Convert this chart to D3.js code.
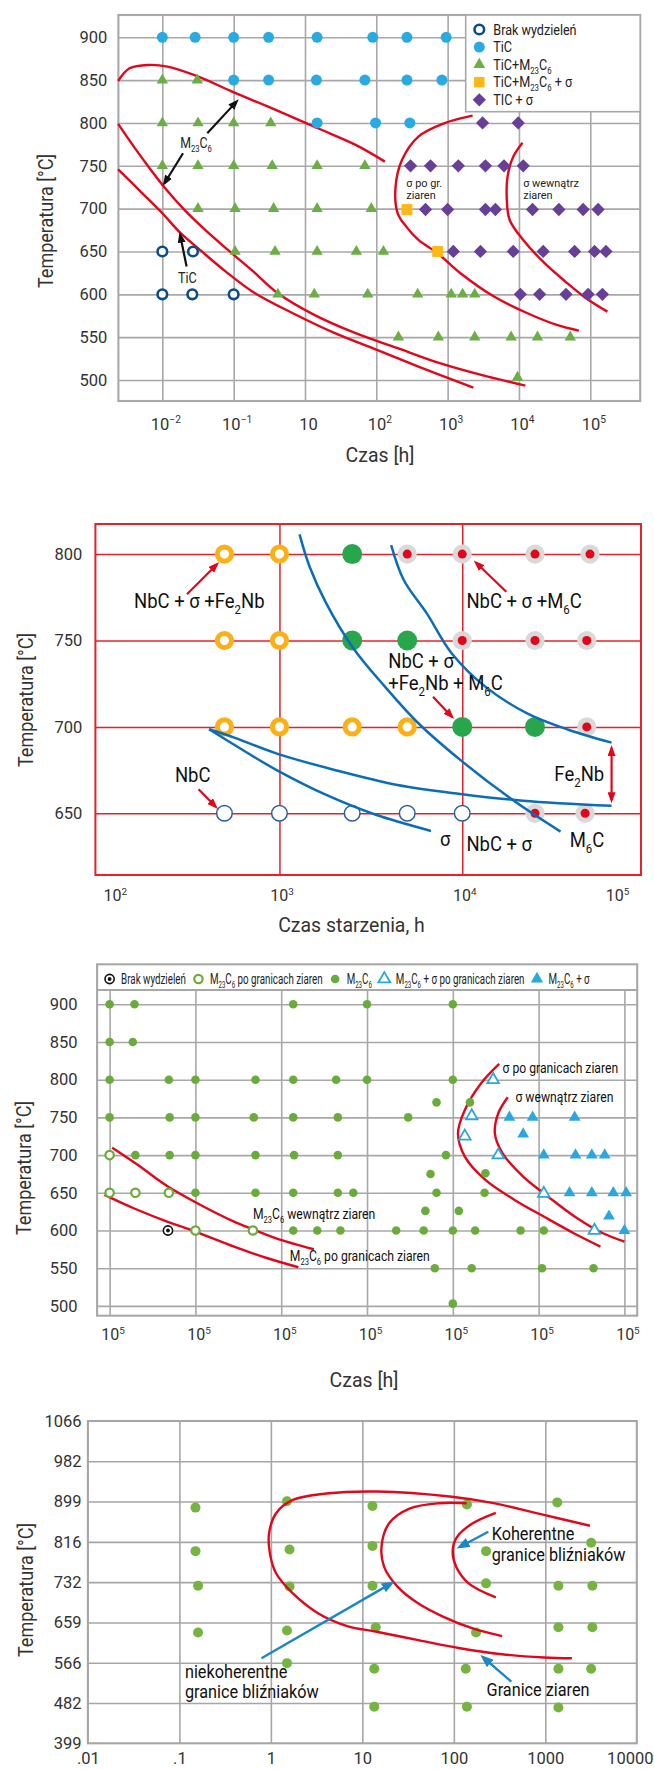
<!DOCTYPE html>
<html>
<head>
<meta charset="utf-8">
<script src="https://cdn.jsdelivr.net/npm/d3@7"></script>
<style>
  body { margin: 0; background: #fff; }
  svg { display: block; }
  text { font-family: Roboto, "Noto Sans", sans-serif; }
</style>
</head>
<body>
<svg id="chart" width="654" height="1769"></svg>
<script>
// ---------- panel 1 : x is a decade index (the original skips 10^0) ----------
var p1XTicks = [0, 1, 2, 3, 4, 5, 6];
var p1XLabels = ["10^{−2}", "10^{−1}", "10", "10^{2}", "10^{3}", "10^{4}", "10^{5}"];
var p1YTicks = [500, 550, 600, 650, 700, 750, 800, 850, 900];
var p1Legend = ["Brak wydzieleń", "TiC", "TiC+M_{23}C_{6}", "TiC+M_{23}C_{6} + σ", "TIC + σ"];

var p1None = [[0, 650], [0.43, 650], [0, 600], [0.42, 600], [1, 600]];
var p1TiC = [[0, 900], [0.46, 900], [1, 900], [1.49, 900], [2.17, 900], [2.95, 900], [3.43, 900], [3.98, 900],
  [1, 850], [1.49, 850], [2.16, 850], [2.84, 850], [3.43, 850], [3.92, 850],
  [2.17, 800], [2.99, 800], [3.47, 800]];
var p1TiCM23 = [[0, 850], [0.49, 850], [0, 800], [0.5, 800], [1, 800], [1.52, 800],
  [0, 750], [0.5, 750], [1, 750], [1.54, 750], [2.17, 750], [2.84, 750],
  [0.5, 700], [1.02, 700], [1.56, 700], [2.17, 700], [2.93, 700],
  [1.02, 650], [1.58, 650], [2.17, 650], [2.72, 650], [3.1, 650],
  [1.62, 600], [2.13, 600], [2.88, 600], [3.58, 600], [4.05, 600], [4.21, 600], [4.38, 600],
  [3.31, 550], [3.87, 550], [4.38, 550], [4.89, 550], [5.26, 550], [5.72, 550], [4.98, 503]];
var p1TiCM23Sigma = [[3.43, 699], [3.86, 650]];
var p1TiCSigma = [[4.49, 800], [4.99, 800],
  [3.48, 750], [3.76, 750], [4.15, 750], [4.53, 750], [4.79, 750], [5.06, 750],
  [3.69, 699], [4.0, 699], [4.53, 699], [4.67, 699], [5.19, 699], [5.56, 699], [5.9, 699], [6.11, 699],
  [4.08, 650], [4.46, 650], [4.92, 650], [5.34, 650], [5.78, 650], [6.06, 650], [6.22, 650],
  [5.02, 600], [5.29, 600], [5.66, 600], [5.97, 600], [6.17, 600]];

var p1CurveA = [[-0.62, 849], [-0.46, 863.8], [-0.19, 867.7], [0.07, 865.8], [0.48, 854.9], [1.01, 835.4],
  [1.54, 817.1], [2.18, 793.8], [2.71, 774.4], [3.12, 754.9]];
var p1CurveB = [[-0.62, 798.9], [-0.4, 772.4], [-0.16, 745.2], [0.04, 723.8], [0.31, 698.5], [0.6, 675.2],
  [0.92, 651.8], [1.25, 628.5], [1.62, 601.2], [2.13, 576], [2.71, 554.6], [3.3, 537.1], [3.89, 519.6],
  [4.47, 505.9], [5.09, 493.5]];
var p1CurveC = [[-0.62, 745.9], [-0.28, 717.9], [0, 694.6], [0.25, 672], [0.54, 651], [0.89, 626.5],
  [1.3, 601.2], [1.83, 577.9], [2.42, 554.6], [3.01, 535.1], [3.59, 515.7], [4.36, 491.2]];
var p1CurveD = [[4.35, 808.6], [3.95, 799.6], [3.59, 784.1], [3.36, 756.8], [3.27, 725.7], [3.3, 694.6],
  [3.42, 679], [3.59, 663.5], [3.86, 647.9], [4.18, 624.6], [4.65, 597.4], [5.12, 577.9], [5.53, 564.3], [5.84, 557.7]];
var p1CurveE = [[5.05, 777], [4.92, 760.7], [4.84, 737.4], [4.83, 710.2], [4.87, 686.8], [5.06, 663.5],
  [5.36, 636.3], [5.65, 614.9], [5.94, 595.4], [6.24, 579.8]];
var p1Arrows = [[[0.63, 788], [1.04, 824.9]], [[0.29, 764.6], [0.03, 729.6]], [[0.34, 632.4], [0.25, 669.3]]];

// ---------- panel 2 : NbC / sigma / Fe2Nb / M6C ----------
var p2XTicks = [1e2, 1e3, 1e4, 1e5];
var p2XLabels = ["10^{2}", "10^{3}", "10^{4}", "10^{5}"];
var p2YTicks = [650, 700, 750, 800];
var p2Rings = [[500, 800], [1000, 800], [500, 750], [1000, 750], [500, 700], [1000, 700], [2500, 700], [5000, 700]];
var p2Green = [[2500, 800], [2500, 750], [5000, 750], [10000, 700], [25000, 700]];
var p2RedGray = [[5000, 800], [10000, 800], [25000, 800], [50000, 800], [10000, 750], [25000, 750],
  [48000, 750], [48000, 700], [25000, 650], [47000, 650]];
var p2Open = [[500, 650], [1000, 650], [2500, 650], [5000, 650], [10000, 650]];
var p2Curve1 = [[1288, 811.4], [1462, 792.7], [1803, 771.5], [2541, 745.4], [3776, 723.3], [5754, 702.1],
  [9750, 680.9], [18320, 658.7], [34510, 639.4]];
var p2Curve2 = [[4083, 805.2], [4786, 785], [6397, 765.7], [8770, 742.5], [13370, 723.3], [22650, 707.8],
  [38370, 698.2], [65610, 690.9]];
var p2Curve3 = [[412, 698.6], [566, 693.8], [959, 684.7], [2004, 675.1], [4416, 666.4], [9750, 661.2],
  [21480, 657.3], [65610, 654.3]];
var p2Curve4 = [[412, 698.6], [630, 686.6], [1000, 674.1], [1803, 660.6], [3396, 649], [6745, 639.8]];
var p2Arrows = [[[312, 776.7], [454, 794]], [[17420, 778.2], [11910, 795]], [[6918, 717.5], [8770, 705.9]],
  [[361, 663.9], [447, 653.9]]];
var p2FeArrow = [[65610, 687.6], [65610, 657.7]];
var p2Notes = [
  { t: "NbC + σ +Fe_{2}Nb", x: 160, y: 768.6 },
  { t: "NbC + σ +M_{6}C", x: 10540, y: 768.6 },
  { t: "NbC + σ", x: 3936, y: 733.9 },
  { t: "+Fe_{2}Nb + M_{6}C", x: 3936, y: 721.3 },
  { t: "NbC", x: 268, y: 667.9 },
  { t: "Fe_{2}Nb", x: 31920, y: 668.9 },
  { t: "σ", x: 7568, y: 631.1 },
  { t: "NbC + σ", x: 10540, y: 628.4 },
  { t: "M_{6}C", x: 38730, y: 630.3 }
];

// ---------- panel 3 : M23C6 / sigma (all x labels read 10^5 in the original) ----------
var p3XTicks = [0, 1, 2, 3, 4, 5, 6];
var p3XLabels = ["10^{5}", "10^{5}", "10^{5}", "10^{5}", "10^{5}", "10^{5}", "10^{5}"];
var p3YTicks = [500, 550, 600, 650, 700, 750, 800, 850, 900];
var p3Legend = ["Brak wydzieleń", "M_{23}C_{6} po granicach ziaren", "M_{23}C_{6}",
  "M_{23}C_{6} + σ po granicach ziaren", "M_{23}C_{6} + σ"];
var p3None = [[0.68, 600]];
var p3M23Gb = [[0, 700], [0, 650], [0.3, 650], [0.69, 650], [1, 600], [1.67, 600]];
var p3M23 = [[0, 900], [0.29, 900], [2.14, 900], [3.0, 900], [4.0, 900], [0, 850], [0.27, 850],
  [0, 800], [0.69, 800], [1, 800], [1.7, 800], [2.14, 800], [2.64, 800], [3.0, 800], [4.0, 800],
  [3.81, 770], [4.2, 770],
  [0, 750], [0.7, 750], [1, 750], [1.68, 750], [2.14, 750], [2.66, 750], [3.48, 750],
  [0.3, 700], [0.7, 700], [1, 700], [1.7, 700], [2.15, 700], [2.66, 700], [3.92, 700],
  [3.74, 675], [4.38, 676],
  [1, 650], [1.7, 650], [2.14, 650], [2.66, 650], [2.84, 650], [3.81, 650], [4.37, 650],
  [3.68, 626], [4.07, 626],
  [2.14, 600], [2.42, 600], [2.69, 600], [3.34, 600], [3.66, 600], [4.0, 600], [4.26, 600], [4.79, 600], [5.06, 600],
  [3.79, 550], [4.22, 550], [5.04, 550], [5.64, 550], [4.0, 503]];
var p3SigmaGb = [[4.47, 800], [4.22, 752], [4.14, 725], [4.53, 700], [5.06, 649], [5.65, 600]];
var p3Sigma = [[4.66, 750], [4.93, 750], [5.42, 750], [4.82, 728], [5.06, 700], [5.43, 700], [5.62, 700], [5.77, 700],
  [5.36, 650], [5.62, 650], [5.87, 650], [6.02, 650], [5.82, 619], [6.0, 600]];
var p3Curve1 = [[0.03, 709.9], [0.33, 687], [0.67, 659.1], [1.06, 633.9], [1.45, 611.8], [1.67, 601.7],
  [1.94, 589.7], [2.38, 575.1]];
var p3Curve2 = [[-0.06, 647.2], [0.28, 629.5], [0.67, 611.8], [1.0, 598.6], [1.45, 578.7], [1.84, 563.2], [2.2, 551.3]];
var p3Curve3 = [[4.54, 820.9], [4.33, 795.2], [4.14, 759.9], [4.06, 728.9], [4.14, 698], [4.38, 667.1],
  [4.72, 640.6], [5.06, 618.5], [5.41, 596.4], [5.72, 578.7]];
var p3Curve4 = [[4.64, 776.7], [4.53, 755.5], [4.49, 728.9], [4.58, 702.4], [4.82, 671.5], [5.11, 645],
  [5.45, 616.2], [5.75, 596.4], [6.0, 585.3]];
var p3Notes = [
  { t: "σ po granicach ziaren", x: 4.58, y: 809.4 },
  { t: "σ wewnątrz ziaren", x: 4.73, y: 770 },
  { t: "M_{23}C_{6} wewnątrz ziaren", x: 1.67, y: 615.8 },
  { t: "M_{23}C_{6} po granicach ziaren", x: 2.1, y: 559.7 }
];

// ---------- panel 4 : twin boundaries (y rows are evenly spaced labels) ----------
var p4XTicks = [0.01, 0.1, 1, 10, 100, 1000, 10000];
var p4XLabels = [".01", ".1", "1", "10", "100", "1000", "10000"];
var p4YLabels = ["399", "482", "566", "659", "732", "816", "899", "982", "1066"];
var p4Pts = [[0.15, 5.85], [0.15, 4.77], [0.16, 3.91], [0.16, 2.75],
  [1.5, 6.01], [1.6, 4.81], [1.6, 3.89], [1.5, 2.8], [1.5, 1.99],
  [12.9, 5.89], [12.9, 4.9], [12.9, 3.91], [14, 2.88], [13.5, 1.85], [13.5, 0.91],
  [139, 5.93], [225, 4.77], [225, 3.97], [175, 2.75], [135, 1.85], [139, 0.91],
  [1350, 5.98], [3170, 4.98], [1390, 3.91], [3270, 3.91], [1390, 2.88], [3270, 2.88],
  [1390, 1.85], [3170, 1.85], [1390, 0.89]];
var p4Curve1 = [[3076, 5.4], [966, 5.67], [273, 5.96], [95.3, 6.12], [14.3, 6.25], [4.05, 6.2], [1.74, 6.04],
  [1.14, 5.71], [0.955, 5.21], [0.975, 4.72], [1.14, 4.22], [1.74, 3.72], [3.27, 3.23], [6.84, 2.91],
  [14.3, 2.77], [41, 2.56], [117, 2.36], [337, 2.21], [966, 2.13], [1954, 2.11]];
var p4Curve2 = [[138, 5.96], [69.3, 5.96], [33.2, 5.83], [19.6, 5.46], [16.2, 4.88], [17.3, 4.38],
  [24.2, 3.89], [41, 3.47], [77.1, 3.14], [161, 2.85], [337, 2.66]];
var p4Curve3 = [[288, 5.72], [161, 5.46], [109, 5.13], [97.3, 4.8], [106, 4.38], [145, 3.97], [288, 3.62]];
var p4Arrows = [[[0.79, 2.11], [20.7, 3.97]], [[238, 5.25], [117, 4.88]], [[425, 1.53], [210, 2.13]]];
var p4Notes = [
  { t: "Koherentne", x: 259, y: 5.05 },
  { t: "granice bliźniaków", x: 259, y: 4.53 },
  { t: "niekoherentne", x: 0.115, y: 1.61 },
  { t: "granice bliźniaków", x: 0.115, y: 1.13 },
  { t: "Granice ziaren", x: 228, y: 1.17 }
];

// ---------- helpers ----------
var svg = d3.select("#chart");
var defs = svg.append("defs");
var RED = "#e3061b";

function arrowHead(id, color, len, wid) {
  defs.append("marker").attr("id", id)
    .attr("viewBox", "0 0 10 10").attr("preserveAspectRatio", "none")
    .attr("refX", 7).attr("refY", 5)
    .attr("markerUnits", "userSpaceOnUse")
    .attr("markerWidth", len).attr("markerHeight", wid)
    .attr("orient", "auto-start-reverse")
    .append("path").attr("d", "M0,0L10,5L0,10Z").attr("fill", color);
}
arrowHead("hBlack", "#111", 11, 8);
arrowHead("hRed", RED, 11, 8);
arrowHead("hBlue", "#1b86c8", 13, 10);

// "M_{23}C_{6}" / "10^{2}" -> tspans
function rich(sel, str, fs) {
  var re = /([_^])\{([^}]*)\}|([^_^]+)/g, m, shift = 0;
  while ((m = re.exec(str))) {
    var mode = m[1], s = m[2] !== undefined ? m[2] : m[3];
    var target = mode === "_" ? fs * 0.28 : mode === "^" ? -fs * 0.4 : 0;
    sel.append("tspan").attr("dy", target - shift)
      .attr("font-size", mode ? fs * 0.62 : fs).text(s);
    shift = target;
  }
}

function label(g, x, y, str, o) {
  var tr = "translate(" + x + "," + y + ")" + (o.rot ? " rotate(" + o.rot + ")" : "") +
    " scale(" + (o.sx || 1) + ",1)";
  var t = g.append("text").attr("transform", tr)
    .attr("font-size", o.fs).attr("fill", o.fill || "#222")
    .attr("text-anchor", o.anchor || "start");
  if (o.baseline) t.attr("dominant-baseline", o.baseline);
  rich(t, str, o.fs);
  return t;
}

function grid(g, x, y, xt, yt, box, color, w, xTop) {
  g.append("g").attr("transform", "translate(0," + box.b + ")")
    .call(d3.axisBottom(x).tickValues(xt).tickSize(-(box.b - (xTop || box.t))).tickFormat(""))
    .call(function (s) { s.select(".domain").remove(); })
    .selectAll("line").attr("stroke", color).attr("stroke-width", w);
  g.append("g").attr("transform", "translate(" + box.l + ",0)")
    .call(d3.axisLeft(y).tickValues(yt).tickSize(-(box.r - box.l)).tickFormat(""))
    .call(function (s) { s.select(".domain").remove(); })
    .selectAll("line").attr("stroke", color).attr("stroke-width", w);
  g.append("rect").attr("x", box.l).attr("y", box.t)
    .attr("width", box.r - box.l).attr("height", box.b - box.t)
    .attr("fill", "none").attr("stroke", color).attr("stroke-width", w + 0.5);
}

function xLabels(g, x, ticks, labels, box, off, fs, dx) {
  var ax = g.append("g").attr("transform", "translate(0," + box.b + ")")
    .call(d3.axisBottom(x).tickValues(ticks).tickSize(0)
      .tickFormat(function (d) { return labels[ticks.indexOf(d)]; }));
  ax.select(".domain").remove();
  ax.attr("font-family", null).attr("font-size", fs).attr("color", "#333");
  ax.selectAll(".tick text").each(function (d, i) {
    var t = d3.select(this), s = t.text();
    t.text(null).attr("dy", null).attr("y", off).attr("dx", dx ? dx(i) : 0);
    rich(t, s, fs);
  });
}

function yLabels(g, y, ticks, labels, box, pad, fs) {
  var ax = g.append("g").attr("transform", "translate(" + box.l + ",0)")
    .call(d3.axisLeft(y).tickValues(ticks).tickSize(0).tickPadding(pad)
      .tickFormat(labels ? function (d) { return labels[ticks.indexOf(d)]; } : d3.format("d")));
  ax.select(".domain").remove();
  ax.attr("font-family", null).attr("font-size", fs).attr("color", "#333");
}

function curve(g, data, x, y, color, w) {
  var line = d3.line().x(function (d) { return x(d[0]); }).y(function (d) { return y(d[1]); })
    .curve(d3.curveCatmullRom.alpha(0.5));
  g.append("path").datum(data).attr("d", line)
    .attr("fill", "none").attr("stroke", color).attr("stroke-width", w);
}

function arrow(g, pair, x, y, color, w, head, both) {
  var l = g.append("line")
    .attr("x1", x(pair[0][0])).attr("y1", y(pair[0][1]))
    .attr("x2", x(pair[1][0])).attr("y2", y(pair[1][1]))
    .attr("stroke", color).attr("stroke-width", w)
    .attr("marker-end", "url(#" + head + ")");
  if (both) l.attr("marker-start", "url(#" + head + ")");
}

function symbols(g, data, x, y, type, size, fill, stroke, sw, rot) {
  g.append("g").selectAll("path").data(data).join("path")
    .attr("transform", function (d) { return "translate(" + x(d[0]) + "," + y(d[1]) + ")" + (rot ? " rotate(" + rot + ")" : ""); })
    .attr("d", d3.symbol().type(type).size(size))
    .attr("fill", fill).attr("stroke", stroke || "none").attr("stroke-width", sw || 0);
}

function circles(g, data, x, y, r, fill, stroke, sw) {
  g.append("g").selectAll("circle").data(data).join("circle")
    .attr("cx", function (d) { return x(d[0]); }).attr("cy", function (d) { return y(d[1]); })
    .attr("r", r).attr("fill", fill).attr("stroke", stroke || "none").attr("stroke-width", sw || 0);
}

// ---------- panel 1 ----------
(function () {
  var box = { l: 118.4, r: 640.2, t: 15, b: 401 };
  var x = d3.scaleLinear().domain([-0.616, 6.70]).range([box.l, box.r]);
  var y = d3.scaleLinear().domain([475.5, 926]).range([box.b, box.t]);
  var g = svg.append("g");
  var GRID = "#a8a8a8", BLUE = "#29abe2", GREEN = "#6cae46", ORANGE = "#fdb813", PURPLE = "#673f98", NAVY = "#0b4d8c";

  grid(g, x, y, p1XTicks, p1YTicks, box, GRID, 1.6);
  [p1CurveA, p1CurveB, p1CurveC, p1CurveD, p1CurveE].forEach(function (c) { curve(g, c, x, y, RED, 2.4); });

  circles(g, p1None, x, y, 4.8, "#fff", NAVY, 2.6);
  circles(g, p1TiC, x, y, 5.5, BLUE);
  symbols(g, p1TiCM23, x, y, d3.symbolTriangle, 56, GREEN);
  symbols(g, p1TiCM23Sigma, x, y, d3.symbolSquare, 118, ORANGE);
  symbols(g, p1TiCSigma, x, y, d3.symbolSquare, 88, PURPLE, null, 0, 45);

  p1Arrows.forEach(function (a) { arrow(g, a, x, y, "#111", 2.2, "hBlack"); });
  label(g, x(0.25), y(770.5), "M_{23}C_{6}", { fs: 14, sx: 0.88 });
  label(g, x(0.22), y(613.7), "TiC", { fs: 14, sx: 0.9 });
  label(g, x(3.42), y(725.2), "σ po gr.", { fs: 11.5, sx: 0.95 });
  label(g, x(3.42), y(711.5), "ziaren", { fs: 11.5, sx: 0.95 });
  label(g, x(5.06), y(725.2), "σ wewnątrz", { fs: 11.5, sx: 0.95 });
  label(g, x(5.06), y(711.5), "ziaren", { fs: 11.5, sx: 0.95 });

  // legend
  var lg = g.append("g");
  lg.append("rect").attr("x", 465.7).attr("y", box.t).attr("width", box.r - 465.7).attr("height", 96.7)
    .attr("fill", "#fff").attr("stroke", GRID).attr("stroke-width", 1.6);
  var rowY = d3.scaleLinear().domain([0, 4]).range([29.5, 99.8]);
  var legendSym = [
    function (cy) { lg.append("circle").attr("cx", 479.3).attr("cy", cy).attr("r", 4.8).attr("fill", "#fff").attr("stroke", NAVY).attr("stroke-width", 2.6); },
    function (cy) { lg.append("circle").attr("cx", 479.3).attr("cy", cy).attr("r", 5.5).attr("fill", BLUE); },
    function (cy) { lg.append("path").attr("transform", "translate(479.3," + cy + ")").attr("d", d3.symbol().type(d3.symbolTriangle).size(60)).attr("fill", GREEN); },
    function (cy) { lg.append("path").attr("transform", "translate(479.3," + cy + ")").attr("d", d3.symbol().type(d3.symbolSquare).size(110)).attr("fill", ORANGE); },
    function (cy) { lg.append("path").attr("transform", "translate(479.3," + cy + ") rotate(45)").attr("d", d3.symbol().type(d3.symbolSquare).size(88)).attr("fill", PURPLE); }
  ];
  p1Legend.forEach(function (s, i) {
    legendSym[i](rowY(i));
    label(lg, 493.3, rowY(i) + 5, s, { fs: 14, sx: 0.9 });
  });

  xLabels(g, x, p1XTicks, p1XLabels, box, 29, 16.5, function () { return 3; });
  yLabels(g, y, p1YTicks, null, box, 11, 16.5);
  label(g, 380, 462, "Czas [h]", { fs: 20.5, anchor: "middle", fill: "#333", sx: 0.95 });
  label(g, 46, 221, "Temperatura [°C]", { fs: 20, anchor: "middle", rot: -90, baseline: "central", fill: "#333", sx: 0.9 });
})();

// ---------- panel 2 ----------
(function () {
  var box = { l: 95.4, r: 641, t: 524, b: 875 };
  var x = d3.scaleLog().domain([Math.pow(10, 1.993), Math.pow(10, 4.978)]).range([box.l, box.r]);
  var y = d3.scaleLinear().domain([614.3, 817.4]).range([box.b, box.t]);
  var g = svg.append("g");
  var LINE = "#e8202a", BLUE = "#0b6db7";

  grid(g, x, y, [1e3, 1e4], p2YTicks, box, LINE, 1.5);

  circles(g, p2Rings, x, y, 7.1, "#fff", "#fbb017", 5);
  circles(g, p2Green, x, y, 10, "#28a64b");
  circles(g, p2RedGray, x, y, 9.6, "#d9d9d9");
  circles(g, p2RedGray, x, y, 4.5, RED);
  circles(g, p2Open, x, y, 7.8, "#fff", "#2b5f9e", 1.5);

  [p2Curve1, p2Curve2, p2Curve3, p2Curve4].forEach(function (c) { curve(g, c, x, y, BLUE, 2.5); });
  p2Arrows.forEach(function (a) { arrow(g, a, x, y, RED, 2.2, "hRed"); });
  arrow(g, p2FeArrow, x, y, RED, 2.2, "hRed", true);
  p2Notes.forEach(function (n) { label(g, x(n.x), y(n.y), n.t, { fs: 21, sx: 0.88, fill: "#111" }); });

  xLabels(g, x, p2XTicks, p2XLabels, box, 26, 16, function (i) { return i === 0 ? 18 : i === 3 ? -28 : 2; });
  yLabels(g, y, p2YTicks, null, box, 13, 16.5);
  label(g, 351.5, 931.5, "Czas starzenia, h", { fs: 20.5, anchor: "middle", fill: "#333", sx: 0.95 });
  label(g, 26, 700, "Temperatura [°C]", { fs: 20, anchor: "middle", rot: -90, baseline: "central", fill: "#333", sx: 0.9 });
})();

// ---------- panel 3 ----------
(function () {
  var box = { l: 97.1, r: 637.2, t: 964.3, b: 1315.7 };
  var x = d3.scaleLinear().domain([-0.146, 6.149]).range([box.l, box.r]);
  var y = d3.scaleLinear().domain([487, 919]).range([box.b, 990]);
  var g = svg.append("g");
  var GRID = "#a8a8a8", GREEN = "#6aac3c", BLUE = "#29a8e0";

  grid(g, x, y, p3XTicks, p3YTicks, box, GRID, 1.6, 990);
  g.append("line").attr("x1", box.l).attr("x2", box.r).attr("y1", 990).attr("y2", 990)
    .attr("stroke", GRID).attr("stroke-width", 2);

  [p3Curve1, p3Curve2, p3Curve3, p3Curve4].forEach(function (c) { curve(g, c, x, y, RED, 2.4); });

  circles(g, p3M23, x, y, 4.3, GREEN);
  circles(g, p3M23Gb, x, y, 4.2, "#fff", GREEN, 2.2);
  circles(g, p3None, x, y, 4.6, "#fff", "#111", 1.6);
  circles(g, p3None, x, y, 1.9, "#111");
  symbols(g, p3SigmaGb, x, y, d3.symbolTriangle, 58, "#fff", BLUE, 1.8);
  symbols(g, p3Sigma, x, y, d3.symbolTriangle, 60, BLUE);

  p3Notes.forEach(function (n) { label(g, x(n.x), y(n.y), n.t, { fs: 14.5, sx: 0.84, fill: "#111" }); });

  // legend strip
  var cy = 979, cx = 109.6;
  var legendSym = [
    function (px) { g.append("circle").attr("cx", px).attr("cy", cy).attr("r", 4.6).attr("fill", "#fff").attr("stroke", "#111").attr("stroke-width", 1.6);
      g.append("circle").attr("cx", px).attr("cy", cy).attr("r", 1.9).attr("fill", "#111"); },
    function (px) { g.append("circle").attr("cx", px).attr("cy", cy).attr("r", 4.2).attr("fill", "#fff").attr("stroke", GREEN).attr("stroke-width", 2.2); },
    function (px) { g.append("circle").attr("cx", px).attr("cy", cy).attr("r", 4.3).attr("fill", GREEN); },
    function (px) { g.append("path").attr("transform", "translate(" + px + "," + cy + ")").attr("d", d3.symbol().type(d3.symbolTriangle).size(62)).attr("fill", "#fff").attr("stroke", BLUE).attr("stroke-width", 1.8); },
    function (px) { g.append("path").attr("transform", "translate(" + px + "," + cy + ")").attr("d", d3.symbol().type(d3.symbolTriangle).size(66)).attr("fill", BLUE); }
  ];
  p3Legend.forEach(function (s, i) {
    legendSym[i](cx);
    var t = label(g, cx + 11.5, cy + 5, s, { fs: 14, sx: 0.7, fill: "#222" });
    cx += 11.5 + t.node().getComputedTextLength() * 0.7 + 12.5;
  });

  xLabels(g, x, p3XTicks, p3XLabels, box, 24.5, 16, function () { return 3; });
  yLabels(g, y, p3YTicks, null, box, 19.5, 16.5);
  label(g, 364, 1386.5, "Czas [h]", { fs: 20.5, anchor: "middle", fill: "#333", sx: 0.95 });
  label(g, 24, 1168, "Temperatura [°C]", { fs: 20, anchor: "middle", rot: -90, baseline: "central", fill: "#333", sx: 0.9 });
})();

// ---------- panel 4 ----------
(function () {
  var box = { l: 87.9, r: 636.8, t: 1421, b: 1743.3 };
  var x = d3.scaleLog().domain([0.01, 10000]).range([box.l, box.r]);
  var y = d3.scaleLinear().domain([0, 8]).range([box.b, box.t]);
  var g = svg.append("g");
  var GRID = "#a6a6a6", GREEN = "#76b442", BLUE = "#1b86c8";
  var yIdx = d3.range(p4YLabels.length);

  grid(g, x, y, [0.1, 1, 10, 100, 1000], yIdx.slice(1, -1), box, GRID, 1.6);
  circles(g, p4Pts, x, y, 5, GREEN);
  [p4Curve1, p4Curve2, p4Curve3].forEach(function (c) { curve(g, c, x, y, RED, 2.4); });
  p4Arrows.forEach(function (a) { arrow(g, a, x, y, BLUE, 2.4, "hBlue"); });
  p4Notes.forEach(function (n) { label(g, x(n.x), y(n.y), n.t, { fs: 17.5, sx: 0.93, fill: "#111" }); });

  xLabels(g, x, p4XTicks, p4XLabels, box, 21, 16.5, function (i) { return i === 6 ? -7 : 0; });
  yLabels(g, y, yIdx, p4YLabels, box, 6.3, 16.5);
  label(g, 26, 1590, "Temperatura [°C]", { fs: 20, anchor: "middle", rot: -90, baseline: "central", fill: "#333", sx: 0.9 });
})();
</script>
</body>
</html>
